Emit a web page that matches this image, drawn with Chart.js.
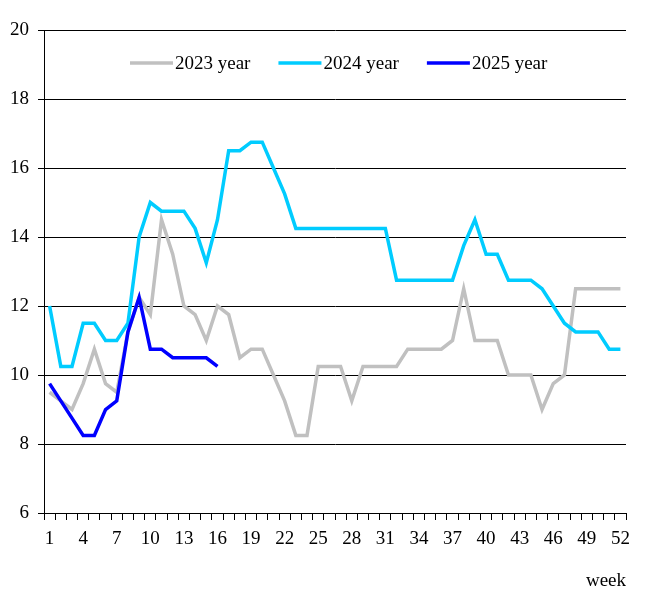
<!DOCTYPE html>
<html>
<head>
<meta charset="utf-8">
<script src="https://cdn.jsdelivr.net/npm/chart.js@4/dist/chart.umd.min.js"></script>
<style>
  html, body { margin: 0; padding: 0; background: #fff; }
  #wrap { width: 645px; height: 611px; position: relative; }
</style>
</head>
<body>
<div id="wrap"><canvas id="myChart"></canvas></div>
<script>
// ====== DATA ======
const weeks = Array.from({ length: 52 }, (_, i) => String(i + 1));
const seriesNames = ["2023 year", "2024 year", "2025 year"];
const values2023 = [9.5, 9.25, 9.0, 9.75, 10.75, 9.75, 9.5, 11.25, 12.25, 11.75,
  14.5, 13.5, 12.0, 11.75, 11.0, 12.0, 11.75, 10.5, 10.75, 10.75,
  10.0, 9.25, 8.25, 8.25, 10.25, 10.25, 10.25, 9.25, 10.25, 10.25,
  10.25, 10.25, 10.75, 10.75, 10.75, 10.75, 11.0, 12.5, 11.0, 11.0,
  11.0, 10.0, 10.0, 10.0, 9.0, 9.75, 10.0, 12.5, 12.5, 12.5,
  12.5, 12.5];
const values2024 = [12.0, 10.25, 10.25, 11.5, 11.5, 11.0, 11.0, 11.5, 14.0, 15.0,
  14.75, 14.75, 14.75, 14.25, 13.25, 14.5, 16.5, 16.5, 16.75, 16.75,
  16.0, 15.25, 14.25, 14.25, 14.25, 14.25, 14.25, 14.25, 14.25, 14.25,
  14.25, 12.75, 12.75, 12.75, 12.75, 12.75, 12.75, 13.75, 14.5, 13.5,
  13.5, 12.75, 12.75, 12.75, 12.5, 12.0, 11.5, 11.25, 11.25, 11.25,
  10.75, 10.75];
const values2025 = [9.75, 9.25, 8.75, 8.25, 8.25, 9.0, 9.25, 11.25, 12.25, 10.75,
  10.75, 10.5, 10.5, 10.5, 10.5, 10.25];
const colors = ["#C0C0C0", "#00CCFF", "#0000FF"];
const yMin = 6, yMax = 20, yStep = 2;

const FONT = "'Liberation Serif', 'Times New Roman', serif";

// legend drawn inside the plot area, like the original
const insideLegend = {
  id: "insideLegend",
  afterDraw(chart) {
    const c = chart.ctx;
    let x = 130;
    const y = 63;
    c.save();
    c.font = "19px " + FONT;
    c.textBaseline = "middle";
    c.fillStyle = "#000";
    chart.data.datasets.forEach(ds => {
      c.strokeStyle = ds.borderColor;
      c.lineWidth = 3.5;
      c.beginPath();
      c.moveTo(x, y);
      c.lineTo(x + 43, y);
      c.stroke();
      c.fillText(ds.label, x + 45, y + 1);
      x += 45 + c.measureText(ds.label).width + 28;
    });
    c.restore();
  }
};

function createChart() {
  const ctx = document.getElementById("myChart");
  const allValues = [values2023, values2024, values2025];
  new Chart(ctx, {
    type: "line",
    data: {
      labels: weeks,
      datasets: allValues.map((vals, i) => ({
        label: seriesNames[i],
        data: vals,
        borderColor: colors[i],
        backgroundColor: colors[i],
        borderWidth: 3.5,
        pointRadius: 0,
        tension: 0,
        fill: false,
        order: 2 - i,
      })),
    },
    options: {
      responsive: true,
      maintainAspectRatio: false,
      animation: false,
      layout: { padding: { top: 30, right: 19, bottom: 0, left: 0 } },
      plugins: {
        legend: { display: false },
        tooltip: { enabled: false },
      },
      scales: {
        x: {
          type: "category",
          offset: true,
          afterFit: s => { s.height = 98; },
          grid: {
            offset: true,
            drawOnChartArea: false,
            drawTicks: true,
            tickLength: 7,
            color: "#000",
          },
          border: { color: "#000", width: 1 },
          ticks: {
            autoSkip: false,
            maxRotation: 0,
            padding: 8,
            color: "#000",
            font: { family: FONT, size: 19 },
            callback: function (val, idx) { return idx % 3 === 0 ? this.getLabelForValue(val) : ""; },
          },
          title: {
            display: true,
            text: "week",
            align: "end",
            color: "#000",
            font: { family: FONT, size: 19 },
            padding: { top: 0, bottom: 19 },
          },
        },
        y: {
          min: yMin,
          max: yMax,
          afterFit: s => { s.width = 44; },
          grid: { color: "#000", tickLength: 6, lineWidth: 1 },
          border: { color: "#000", width: 1 },
          ticks: {
            stepSize: yStep,
            padding: 9,
            color: "#000",
            font: { family: FONT, size: 19 },
          },
        },
      },
    },
    plugins: [insideLegend],
  });
}

createChart();
</script>
</body>
</html>
